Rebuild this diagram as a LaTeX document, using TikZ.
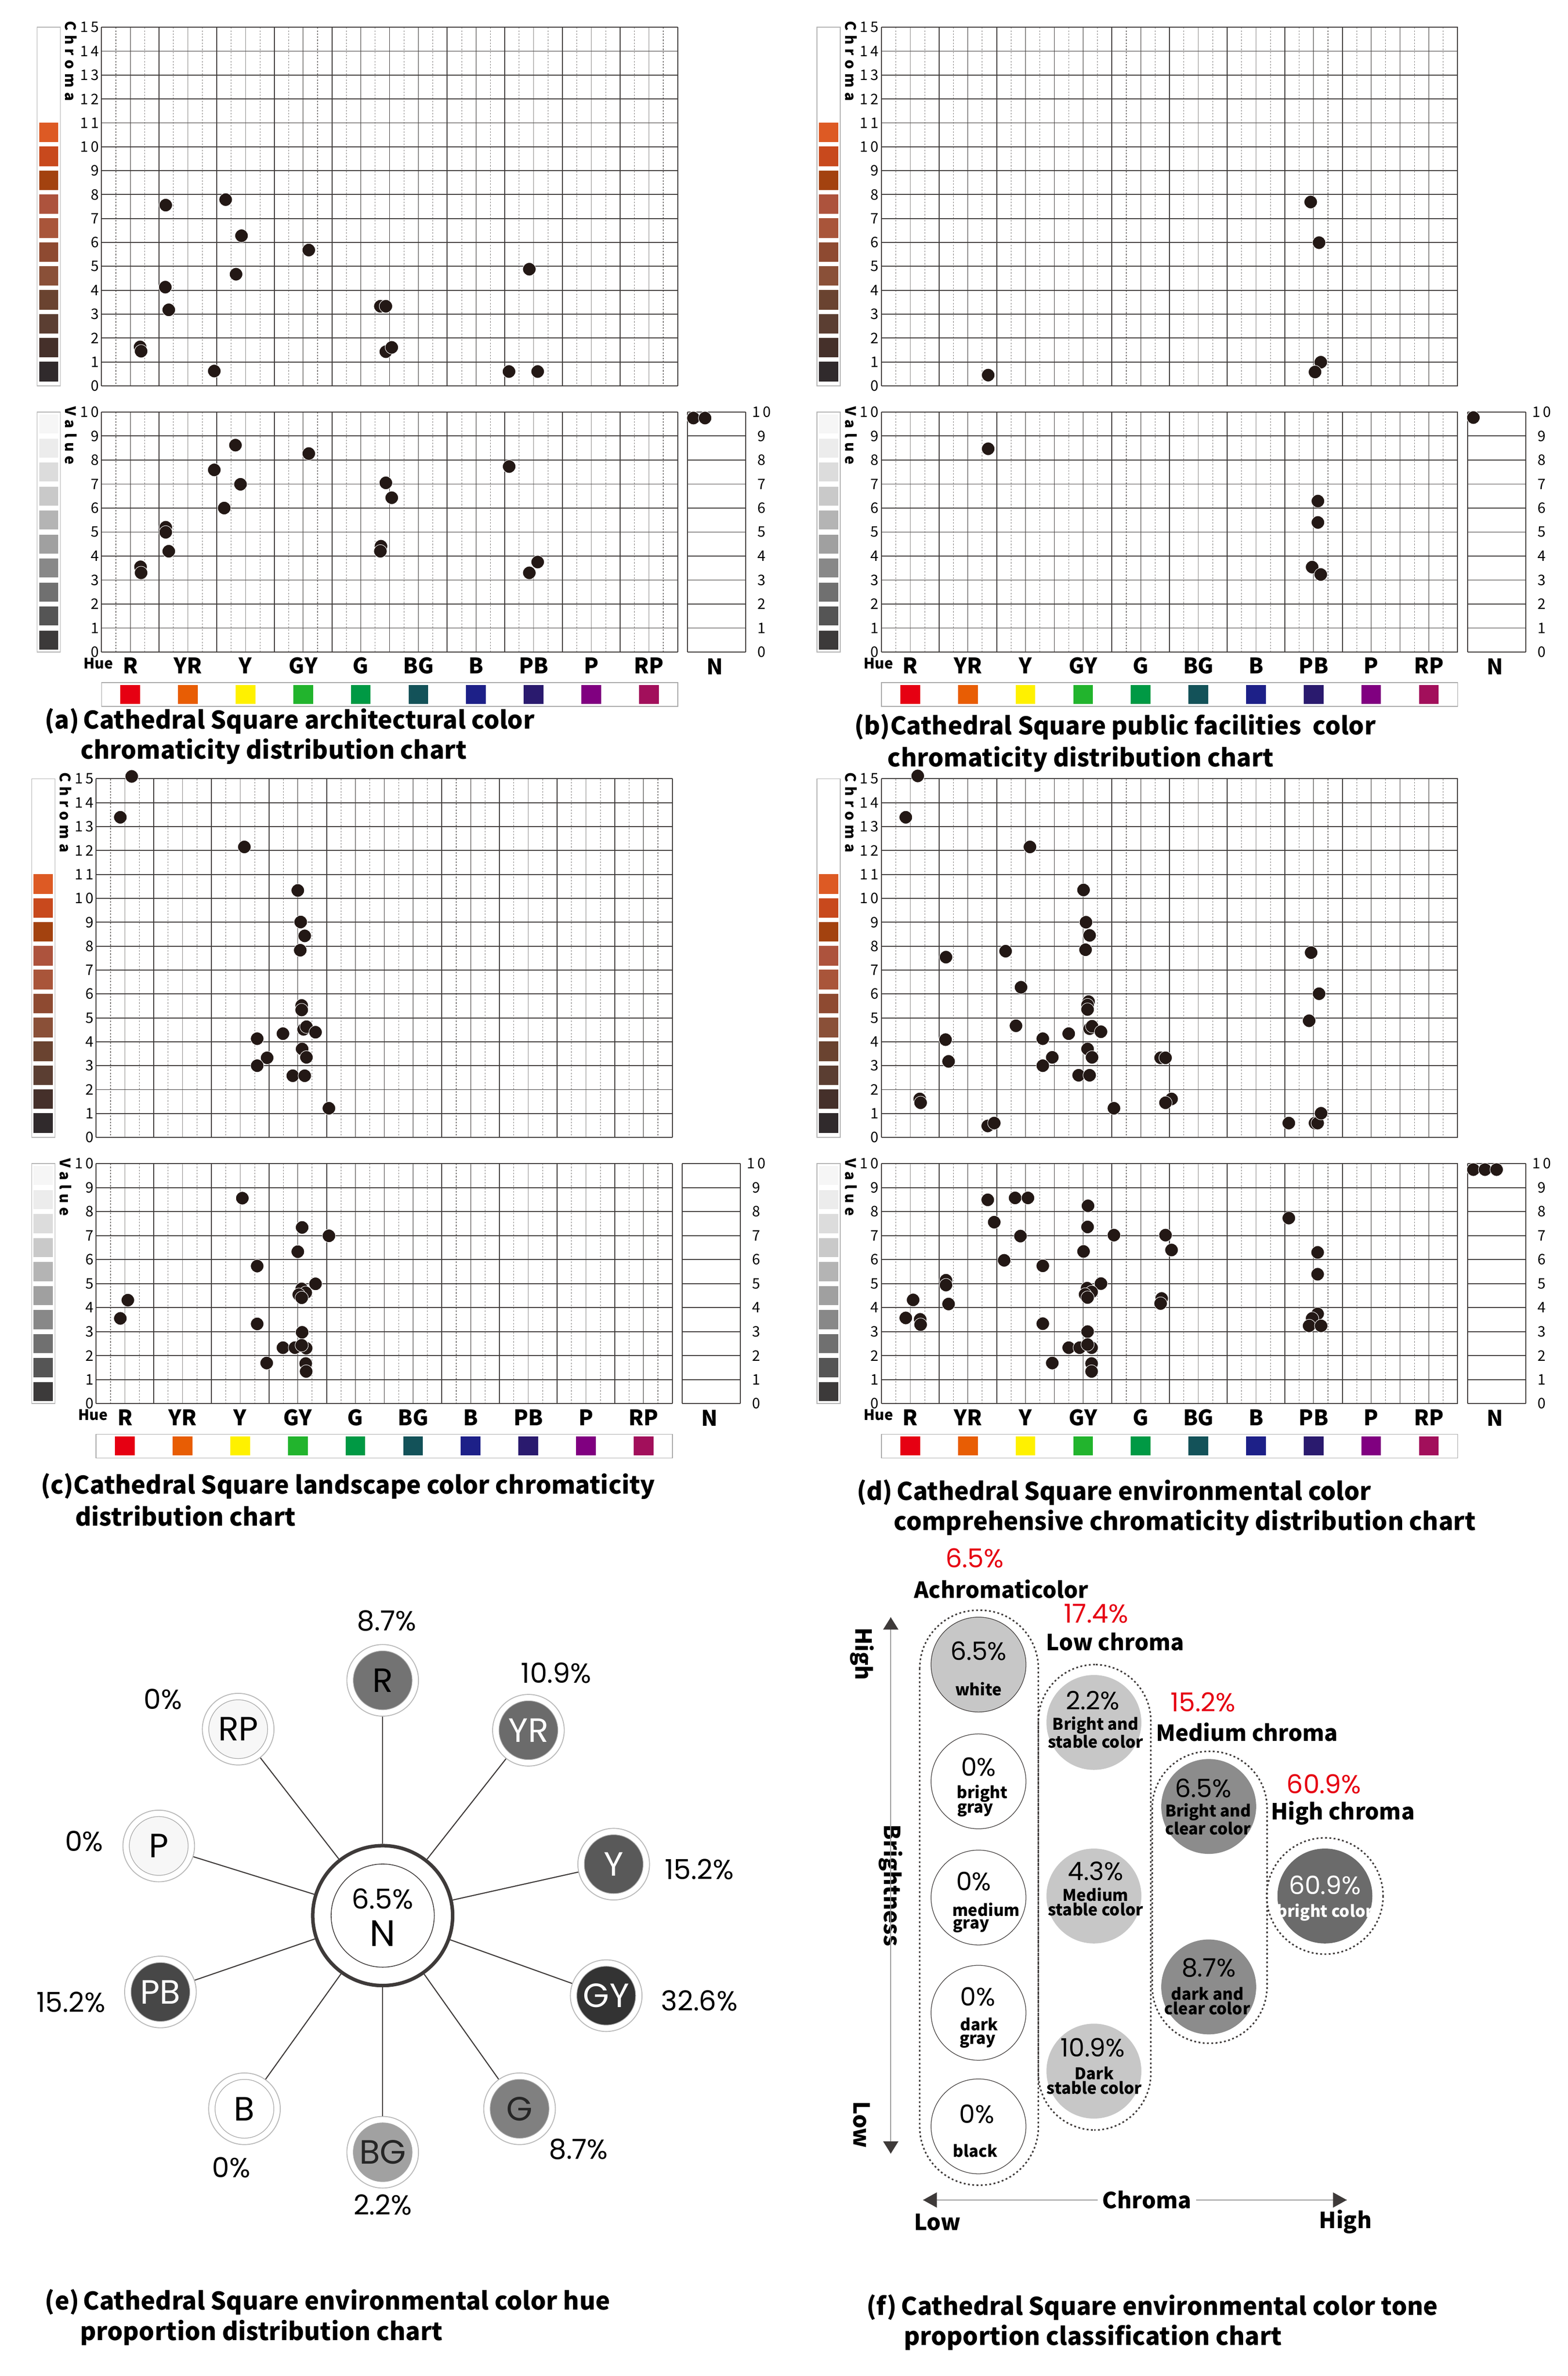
\documentclass[tikz,border=0pt]{standalone}
\usepackage{fontspec}
\usetikzlibrary{shapes.geometric,arrows.meta}
\newfontfamily\capf{Noto Sans CJK SC}
\newfontfamily\pop{Poppins}
\definecolor{dotcol}{HTML}{231815}
\definecolor{gridd}{HTML}{3E3A39}
\definecolor{cs0}{HTML}{302A2C}\definecolor{cs1}{HTML}{45302A}\definecolor{cs2}{HTML}{5B3E32}
\definecolor{cs3}{HTML}{6A4330}\definecolor{cs4}{HTML}{8A5038}\definecolor{cs5}{HTML}{8E4A31}
\definecolor{cs6}{HTML}{A9553A}\definecolor{cs7}{HTML}{AD533D}\definecolor{cs8}{HTML}{A3420F}
\definecolor{cs9}{HTML}{C8491D}\definecolor{cs10}{HTML}{DD5A24}
\definecolor{vs0}{HTML}{3C3A3A}\definecolor{vs1}{HTML}{555555}\definecolor{vs2}{HTML}{707070}
\definecolor{vs3}{HTML}{888888}\definecolor{vs4}{HTML}{A0A0A0}\definecolor{vs5}{HTML}{B4B4B4}
\definecolor{vs6}{HTML}{C9C9C9}\definecolor{vs7}{HTML}{DCDCDC}\definecolor{vs8}{HTML}{ECECEC}
\definecolor{vs9}{HTML}{F6F6F6}
\definecolor{hR}{HTML}{E60012}\definecolor{hYR}{HTML}{E85D04}\definecolor{hY}{HTML}{FFF100}
\definecolor{hGY}{HTML}{22B42D}\definecolor{hG}{HTML}{009944}\definecolor{hBG}{HTML}{135259}
\definecolor{hB}{HTML}{1D2088}\definecolor{hPB}{HTML}{2A1A6E}\definecolor{hP}{HTML}{800080}
\definecolor{hRP}{HTML}{A20F5B}
\definecolor{redt}{HTML}{E60012}
\tikzset{
  dotst/.style={fill=dotcol,draw=white,line width=0.3},
  dashl/.style={draw=gridd!70,line width=0.35,dash pattern=on 1pt off 1pt},
  soll/.style={draw=gridd,line width=0.6},
  soll2/.style={draw=gridd!60,line width=0.5},
  hl/.style={draw=gridd,line width=0.6},
  tick/.style={font=\capf\fontsize{9.5}{9.5}\selectfont\addfontfeature{LetterSpace=18},inner sep=0},
  huel/.style={font=\capf\bfseries\fontsize{14}{14}\selectfont,inner sep=0},
  capt/.style={font=\capf\bfseries\fontsize{16}{16}\selectfont,anchor=west,inner sep=0},
  satn/.style={circle,minimum size=46.8,draw=gray!55,line width=0.6,inner sep=0},
  pct/.style={font=\pop\fontsize{18}{18}\selectfont,inner sep=0},
  ell/.style={circle,minimum size=62,inner sep=0},
  fpct/.style={font=\pop\fontsize{16.5}{16.5}\selectfont,inner sep=0},
  fsub/.style={font=\capf\bfseries\fontsize{10.5}{9.6}\selectfont,inner sep=0,align=center},
  fcat/.style={font=\capf\bfseries\fontsize{14.5}{14.5}\selectfont,inner sep=0},
  fred/.style={font=\pop\fontsize{17}{17}\selectfont,text=redt,inner sep=0},
  dotbox/.style={draw=gridd,line width=1,dash pattern=on 1.2pt off 1.6pt},
}
\newcommand\cdt[2]{\fill[dotst] ({66.3+9.41*#1},{252.1-15.62*#2}) circle (4.3);}
\newcommand\vdt[2]{\fill[dotst] ({66.3+9.41*#1},{426-15.68*#2}) circle (4.3);}
\newcommand\ndt[2]{\fill[dotst] ({449.2+37.9*#1},{426-15.68*#2}) circle (4.3);}
\newcommand\chartbase{%
  \draw[gray!60,line width=0.5] (24.2,17.8) rectangle (39.4,252.1);
  \draw[gray!60,line width=0.5] (24.2,269.2) rectangle (39.4,426);
  \foreach \k in {0,...,10} {\fill[cs\k] (25.5,{252.1-15.62*(\k+0.6)-6.4}) rectangle (38.1,{252.1-15.62*(\k+0.6)+6.4});}
  \foreach \k in {0,...,9} {\fill[vs\k] (25.5,{426-15.68*(\k+0.5)-6.2}) rectangle (38.1,{426-15.68*(\k+0.5)+6.2});}
  \foreach \i in {1,3,...,39} {\draw[dashl] ({66.3+9.41*\i},17.8) -- ({66.3+9.41*\i},252.1);
     \draw[dashl] ({66.3+9.41*\i},269.2) -- ({66.3+9.41*\i},426);}
  \foreach \i in {2,6,...,38} {\draw[soll2] ({66.3+9.41*\i},17.8) -- ({66.3+9.41*\i},252.1);
     \draw[soll2] ({66.3+9.41*\i},269.2) -- ({66.3+9.41*\i},426);}
  \foreach \i in {0,4,...,40} {\draw[soll] ({66.3+9.41*\i},17.8) -- ({66.3+9.41*\i},252.1);
     \draw[soll] ({66.3+9.41*\i},269.2) -- ({66.3+9.41*\i},426);}
  \foreach \cc in {0,...,15} {\draw[hl] (66.3,{252.1-15.62*\cc}) -- (442.8,{252.1-15.62*\cc});
     \node[tick,anchor=east] at (64.8,{252.1-15.62*\cc}) {\cc};}
  \foreach \vv in {0,...,10} {\draw[hl] (66.3,{426-15.68*\vv}) -- (442.8,{426-15.68*\vv});
     \draw[hl] (449.2,{426-15.68*\vv}) -- (487.1,{426-15.68*\vv});
     \node[tick,anchor=east] at (64.8,{426-15.68*\vv}) {\vv};
     \node[tick] at (497.5,{426-15.68*\vv}) {\vv};}
  \draw[hl] (449.2,269.2) -- (449.2,426) (487.1,269.2) -- (487.1,426);
  \node[font=\capf\bfseries\fontsize{9.5}{9.5}\selectfont\addfontfeature{LetterSpace=30},rotate=-90,anchor=west,inner sep=0] at (46.3,13.5) {Chroma};
  \node[font=\capf\bfseries\fontsize{9.5}{9.5}\selectfont\addfontfeature{LetterSpace=30},rotate=-90,anchor=west,inner sep=0] at (46.3,265.5) {Value};
  \node[font=\capf\bfseries\fontsize{9.5}{9.5}\selectfont,inner sep=0] at (64.3,433.5) {Hue};
  \foreach \k/\nm in {0/R,1/YR,2/Y,3/GY,4/G,5/BG,6/B,7/PB,8/P,9/RP} {
     \node[huel] at ({66.3+9.41*(2+4*\k)},435) {\nm};
     \fill[h\nm] ({66.3+9.41*(2+4*\k)-6.45},447.6) rectangle ({66.3+9.41*(2+4*\k)+6.45},459.9);}
  \node[huel] at (467,435.5) {N};
  \draw[gray!70,line width=0.5] (66.3,446) rectangle (442.8,461.5);
}
\begin{document}
\begin{tikzpicture}[x=1pt,y=-1pt]
\useasboundingbox (0,0) rectangle (1024,1552.3);
\fill[white] (0,0) rectangle (1024,1552.3);
% (a)
\begin{scope}
\chartbase
\foreach \h/\q in {2.68/1.63,2.75/1.45,4.46/7.56,4.43/4.13,4.67/3.18,7.83/0.62,8.62/7.79,9.72/6.28,9.34/4.67,14.39/5.68,19.36/3.33,19.74/3.33,19.74/1.43,20.15/1.61,28.29/0.6,30.28/0.6,29.7/4.88} {\cdt{\h}{\q}}
\foreach \h/\q in {2.71/3.55,2.75/3.30,4.46/5.2,4.46/4.99,4.67/4.2,7.83/7.59,9.3/8.62,9.65/6.99,8.52/6.0,14.39/8.27,19.74/7.05,20.15/6.43,19.4/4.41,19.36/4.2,28.3/7.73,30.28/3.75,29.7/3.3} {\vdt{\h}{\q}}
\ndt{0.1}{9.75}\ndt{0.3}{9.75}
\node[capt] at (29,471) {(a)\,Cathedral Square architectural color};
\node[capt] at (52.5,491) {chromaticity distribution chart};
\end{scope}
% (b)
\begin{scope}[shift={(509.5,0)}]
\chartbase
\foreach \h/\q in {7.41/0.45,29.8/7.69,30.38/5.99,30.5/0.99,30.1/0.58} {\cdt{\h}{\q}}
\foreach \h/\q in {7.41/8.47,30.3/6.29,30.3/5.4,29.9/3.54,30.5/3.23} {\vdt{\h}{\q}}
\ndt{0.1}{9.77}
\node[capt] at (48.5,475) {(b)Cathedral Square public facilities\ \ color};
\node[capt] at (70.2,496) {chromaticity distribution chart};
\end{scope}
% (c)
\begin{scope}[shift={(-3.5,491)}]
\chartbase
\foreach \h/\q in {2.47/15.1,1.68/13.39,10.29/12.15,14.0/10.33,14.2/9.01,14.48/8.43,14.17/7.83,14.27/5.52,14.27/5.33,11.18/4.13,12.97/4.34,11.87/3.33,11.18/3.0,14.3/3.7,14.6/3.35,13.65/2.58,14.48/2.58,14.4/4.52,14.6/4.63,15.23/4.4,16.16/1.22} {\cdt{\h}{\q}}
\foreach \h/\q in {10.15/8.56,14.3/7.34,16.16/6.99,14.0/6.33,11.18/5.73,15.23/4.99,14.27/4.78,14.55/4.62,14.07/4.54,14.27/4.41,2.2/4.31,1.68/3.55,11.18/3.32,14.3/2.97,12.97/2.33,13.8/2.33,14.58/2.31,14.27/2.43,11.84/1.69,14.55/1.67,14.58/1.34} {\vdt{\h}{\q}}
\node[capt] at (30,480) {(c)Cathedral Square landscape color chromaticity};
\node[capt] at (52.5,499.5) {distribution chart};
\end{scope}
% (d)
\begin{scope}[shift={(509.5,491)}]
\chartbase
\foreach \h/\q in {2.52/15.12,1.69/13.39,10.31/12.15,14.03/10.35,14.2/9.0,14.45/8.45,14.17/7.85,4.48/7.54,8.62/7.79,9.69/6.28,9.34/4.67,29.83/7.73,30.38/6.01,29.69/4.88,14.38/5.68,14.31/5.54,14.31/5.35,4.45/4.09,4.66/3.18,11.2/4.13,13.0/4.34,11.86/3.35,11.2/3.0,14.31/3.70,14.62/3.35,13.69/2.6,14.45/2.6,14.45/4.55,14.62/4.65,15.24/4.42,16.14/1.22,19.38/3.33,19.72/3.33,20.14/1.61,19.72/1.45,2.66/1.61,2.72/1.45,7.38/0.48,7.83/0.6,28.28/0.6,30.1/0.6,30.28/0.6,30.52/1.01} {\cdt{\h}{\q}}
\foreach \h/\q in {7.38/8.49,9.28/8.57,10.17/8.57,7.83/7.56,9.65/6.98,8.52/5.97,11.2/5.74,14.34/8.24,14.31/7.36,16.14/7.02,14.03/6.34,15.24/5.0,14.28/4.81,14.59/4.65,14.14/4.55,14.31/4.42,19.72/7.02,20.14/6.4,19.45/4.38,19.38/4.17,28.28/7.73,30.28/6.3,30.28/5.39,30.28/3.74,29.9/3.55,29.69/3.24,30.52/3.24,4.48/5.14,4.48/4.94,4.66/4.15,2.2/4.32,1.69/3.57,2.69/3.51,2.72/3.29,11.2/3.33,14.31/3.0,13.0/2.33,13.76/2.33,14.59/2.33,14.31/2.46,11.86/1.69,14.59/1.67,14.59/1.34} {\vdt{\h}{\q}}
\ndt{0.1}{9.75}\ndt{0.3}{9.75}\ndt{0.5}{9.75}
\node[capt] at (50.1,484) {(d)\,Cathedral Square environmental color};
\node[capt] at (74.2,504) {comprehensive chromaticity distribution chart};
\end{scope}
% (e)
\newcommand\sat[6]{%
  \node[satn] (#1) at (#2,#3) {};
  \filldraw[fill=#4,draw=gray!70,line width=0.4] (#2,#3) circle (19.2);
  \node[text=#5,font=\pop\fontsize{22}{22}\selectfont,inner sep=0] at (#2,#3) {#6};}
\node[circle,minimum size=91.4,draw=gridd,line width=2.3,inner sep=0] (N) at (250,1251.5) {};
\draw[gridd,line width=0.5] (250,1251.5) circle (33.7);
\node[pct] at (250,1240.5) {6.5\%};
\node[font=\pop\fontsize{24}{24}\selectfont,inner sep=0] at (250,1263) {N};
\sat{R}{250}{1097.8}{black!55}{black}{R}
\sat{YR}{345.2}{1130.4}{black!58}{white}{YR}
\sat{Y}{400.9}{1217.9}{black!65}{white}{Y}
\sat{GY}{396}{1303.8}{black!80}{white}{GY}
\sat{G}{339.4}{1377.7}{black!50}{black!85}{G}
\sat{BG}{250}{1406.1}{black!37}{black!85}{BG}
\sat{B}{159.7}{1377.7}{white}{black}{B}
\sat{PB}{104.8}{1301.4}{black!72}{white}{PB}
\sat{P}{103.7}{1206}{black!3}{black}{P}
\sat{RP}{155.6}{1129.7}{black!3}{black}{RP}
\foreach \s in {R,YR,Y,GY,G,BG,B,PB,P,RP} {\draw[gridd,line width=0.7] (N) -- (\s);}
\node[pct] at (252.5,1059) {8.7\%};
\node[pct] at (363.4,1093) {10.9\%};
\node[pct] at (106.5,1110) {0\%};
\node[pct] at (55,1203) {0\%};
\node[pct] at (456.9,1221.4) {15.2\%};
\node[pct] at (456.9,1307.2) {32.6\%};
\node[pct] at (46.4,1308.2) {15.2\%};
\node[pct] at (377.9,1404.2) {8.7\%};
\node[pct] at (151,1416.2) {0\%};
\node[pct] at (250,1440.3) {2.2\%};
\node[capt] at (29.2,1504) {(e)\,Cathedral Square environmental color hue};
\node[capt] at (52.2,1524) {proportion distribution chart};
% (f)
\draw[dotbox,rounded corners=38] (600.8,1052) rectangle (678.3,1427.6);
\draw[dotbox,rounded corners=37] (678.3,1087.5) rectangle (751.8,1391.6);
\draw[dotbox,rounded corners=37] (752.7,1144.2) rectangle (827.7,1334.9);
\draw[dotbox] (865.5,1238.7) circle (38);
\node[ell,fill=black!22,draw=gridd,line width=0.4] (fw) at (639.2,1087.5) {};
\node[ell,fill=white,draw=gridd,line width=0.4] (fbg) at (639.2,1163.8) {};
\node[ell,fill=white,draw=gridd,line width=0.4] (fmg) at (639.2,1239.7) {};
\node[ell,fill=white,draw=gridd,line width=0.4] (fdg) at (639.2,1315) {};
\node[ell,fill=white,draw=gridd,line width=0.4] (fbk) at (639.2,1389.2) {};
\node[ell,fill=black!22] (fl1) at (714.6,1125.3) {};
\node[ell,fill=black!22] (fl2) at (714.6,1238.7) {};
\node[ell,fill=black!22] (fl3) at (714.6,1353.1) {};
\node[ell,fill=black!45] (fm1) at (789.6,1180.2) {};
\node[ell,fill=black!45] (fm2) at (789.6,1298.1) {};
\node[ell,fill=black!58] (fh) at (865.5,1238.7) {};
\node[fpct] at (639.2,1078.5) {6.5\%}; \node[fsub] at (639.2,1103.6) {white};
\node[fpct] at (639.2,1154.5) {0\%}; \node[fsub] at (641.7,1171.7) {bright}; \node[fsub] at (637.1,1182.5) {gray};
\node[fpct] at (636.1,1229) {0\%}; \node[fsub] at (644.2,1247.5) {medium}; \node[fsub] at (634.4,1258.4) {gray};
\node[fpct] at (638.7,1304.5) {0\%}; \node[fsub] at (639.6,1322.5) {dark}; \node[fsub] at (638.7,1333.8) {gray};
\node[fpct] at (638.2,1381) {0\%}; \node[fsub] at (637.2,1405.3) {black};
\node[fpct] at (713.9,1111) {2.2\%}; \node[fsub] at (715.7,1131.8) {Bright and\\stable color};
\node[fpct] at (715.7,1222.5) {4.3\%}; \node[fsub] at (715.7,1242.6) {Medium\\stable color};
\node[fpct] at (713.9,1337.8) {10.9\%}; \node[fsub] at (714.8,1359.3) {Dark\\stable color};
\node[fpct] at (786,1168.4) {6.5\%}; \node[fsub] at (789.2,1188.5) {Bright and\\clear color};
\node[fpct] at (789.6,1285.6) {8.7\%}; \node[fsub] at (788.7,1307.3) {dark and\\clear color};
\node[fpct,text=white] at (865.5,1231.6) {60.9\%}; \node[fsub,text=white] at (865.5,1249.3) {bright color};
\node[fred] at (636.6,1018) {6.5\%};
\node[fcat] at (654.1,1038.3) {Achromaticolor};
\node[fred] at (716.1,1054.1) {17.4\%};
\node[fcat] at (728.5,1072.7) {Low chroma};
\node[fred] at (785.9,1112.2) {15.2\%};
\node[fcat] at (814.6,1131.5) {Medium chroma};
\node[fred] at (864.9,1165.5) {60.9\%};
\node[fcat] at (877.2,1184.4) {High chroma};
% axes
\node[fcat,rotate=-90] (bri) at (581.9,1231.8) {Brightness};
\coordinate (vt) at (581.9,1056.6);
\coordinate (vb) at (581.9,1407);
\draw[gray!80,line width=0.8] (bri.east) -- (vt);
\draw[gray!80,line width=0.8] (bri.west) -- (vb);
\fill[gridd] (vt) -- ++(-5,8) -- ++(10,0) -- cycle;
\fill[gridd] (vb) -- ++(-5,-8) -- ++(10,0) -- cycle;
\node[fcat,rotate=-90] at (563,1080.6) {High};
\node[fcat,rotate=-90] at (563,1388.1) {Low};
\node[fcat] (chr) at (749.2,1437.3) {Chroma};
\coordinate (hl) at (603,1437.3);
\coordinate (hr) at (879.8,1437.3);
\draw[gray!80,line width=0.8] ([xshift=-3]chr.west) -- (hl);
\draw[gray!80,line width=0.8] ([xshift=3]chr.east) -- (hr);
\fill[gridd] (hl) -- ++(9,-5) -- ++(0,10) -- cycle;
\fill[gridd] (hr) -- ++(-9,-5) -- ++(0,10) -- cycle;
\node[fcat] at (612.3,1451.7) {Low};
\node[fcat] at (878.9,1451.7) {High};
\node[capt] at (566,1507.4) {(f)\,Cathedral Square environmental color tone};
\node[capt] at (590.3,1527.3) {proportion classification chart};
\end{tikzpicture}
\end{document}
